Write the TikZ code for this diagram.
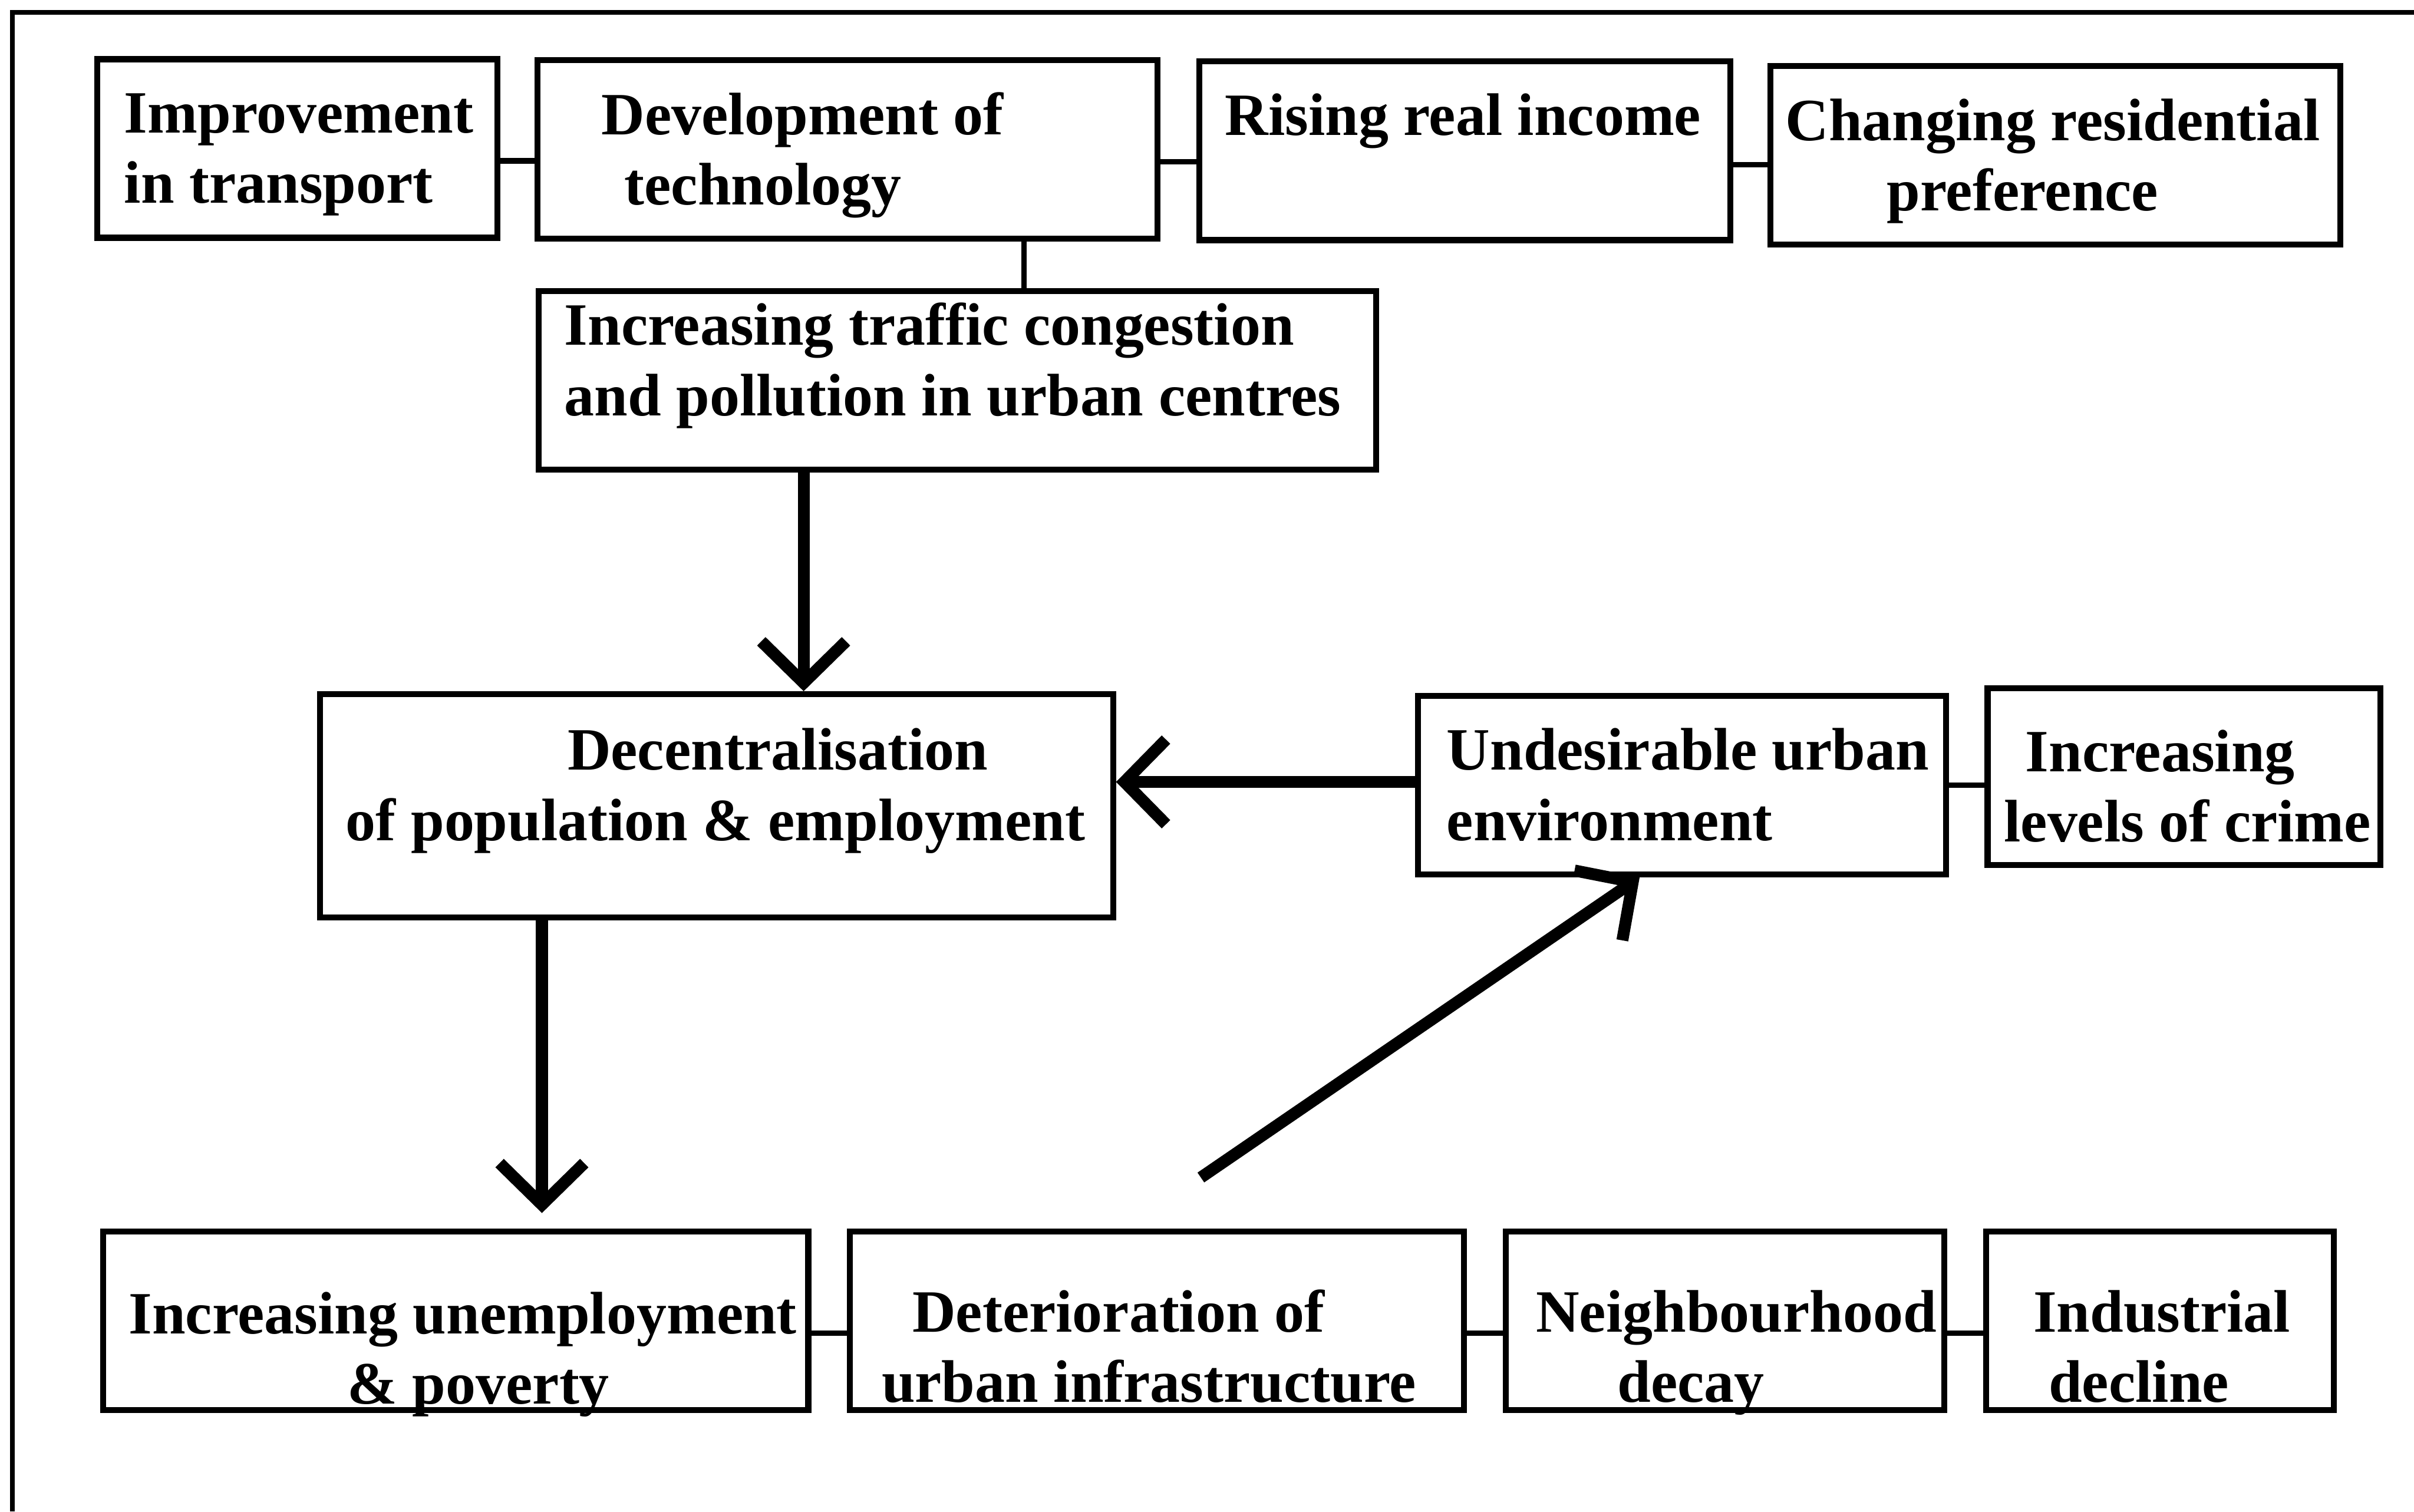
\documentclass[tikz,border=0pt]{standalone}
\usepackage{fontspec}
\setmainfont{Liberation Serif}
\usetikzlibrary{arrows.meta, positioning, calc}

\begin{document}
\begin{tikzpicture}[
  box/.style={draw, line width=1.1pt, minimum height=1.16cm, inner sep=0pt},
  txt/.style={anchor=base west, align=left, inner sep=0pt, font=\fontsize{11.1}{13}\selectfont\bfseries},
  link/.style={line width=1pt},
  flow/.style={line width=2.2pt, -{Straight Barb[length=2.7mm, width=5.5mm]}}
]
\useasboundingbox (0,0) rectangle (15.68,9.82);
% outer frame, only top and left edge show
\draw[line width=0.9pt] (0.08,0) -- (0.08,9.74) -- (15.68,9.74);

% top row
\node[box, minimum width=2.60cm] (impr) at (1.93,8.855) {};
\node[box, minimum width=4.03cm] (devt) at (5.505,8.85) {};
\node[box, minimum width=3.45cm] (rise) at (9.515,8.84) {};
\node[box, minimum width=3.70cm] (pref) at (13.35,8.81) {};
\node[txt] (impr-t) at (0.80,8.50) {Improvement\\in transport};
\node[txt] (devt-t) at (3.90,8.49) {Development of\\\hspace*{1.5mm}technology};
\node[txt] (rise-t) at (7.95,8.94) {Rising real income};
\node[txt] (pref-t) at (11.59,8.45) {Changing residential\\\hspace*{6.6mm}preference};

% middle
\node[box, minimum width=5.44cm] (traf) at (6.22,7.35) {};
\node[txt] (traf-t) at (3.66,7.12) {Increasing traffic congestion\\and pollution in urban centres};
\node[box, minimum width=5.15cm, minimum height=1.45cm] (dece) at (4.655,4.585) {};
\node[txt] (dece-t) at (2.24,4.36) {\hspace*{14.4mm}Decentralisation\\of population \& employment};
\node[box, minimum width=3.43cm] (undes) at (10.925,4.72) {};
\node[txt] (undes-t) at (9.39,4.36) {Undesirable urban\\environment};
\node[box, minimum width=2.55cm, minimum height=1.15cm] (crime) at (14.185,4.775) {};
\node[txt] (crime-t) at (13.01,4.35) {\hspace*{1.4mm}Increasing\\levels of crime};

% bottom row
\node[box, minimum width=4.58cm] (unem) at (2.96,1.24) {};
\node[box, minimum width=3.99cm] (deter) at (7.515,1.24) {};
\node[box, minimum width=2.85cm] (neigh) at (11.205,1.24) {};
\node[box, minimum width=2.26cm] (indus) at (14.03,1.24) {};
\node[txt] (unem-t) at (0.83,0.70) {Increasing unemployment\\\hspace*{14.2mm}\& poverty};
\node[txt] (deter-t) at (5.72,0.71) {\hspace*{2mm}Deterioration of\\urban infrastructure};
\node[txt] (neigh-t) at (9.97,0.71) {Neighbourhood\\\hspace*{5.3mm}decay};
\node[txt] (indus-t) at (13.20,0.71) {Industrial\\\hspace*{1mm}decline};

% plain links
\draw[link] ([yshift=-0.8mm]impr.east) -- ([yshift=-0.8mm]impr.east -| devt.west);
\draw[link] ([yshift=-0.8mm]devt.east) -- ([yshift=-0.8mm]devt.east -| rise.west);
\draw[link] ([yshift=-0.9mm]rise.east) -- ([yshift=-0.9mm]rise.east -| pref.west);
\draw[link] ([xshift=11.45mm]devt.south) -- ([xshift=11.45mm]devt.south |- traf.north);
\draw[link] (undes.east) -- (undes.east -| crime.west);
\draw[link] ([yshift=-0.8mm]unem.east) -- ([yshift=-0.8mm]unem.east -| deter.west);
\draw[link] ([yshift=-0.8mm]deter.east) -- ([yshift=-0.8mm]deter.east -| neigh.west);
\draw[link] ([yshift=-0.8mm]neigh.east) -- ([yshift=-0.8mm]neigh.east -| indus.west);

% arrows
\coordinate (dstart) at (7.80,2.17);
\draw[flow] ([xshift=-10mm]traf.south) -- ([xshift=-10mm]traf.south |- dece.north);
\draw[flow] ([yshift=0.2mm]undes.west) -- ([yshift=0.2mm]undes.west -| dece.east);
\draw[flow, shorten >=1mm] ([xshift=-11.35mm]dece.south) -- ([xshift=-11.35mm]dece.south |- unem.north);
\draw[flow] (dstart) -- ([xshift=-2.75mm]undes.south);
\end{tikzpicture}
\end{document}
